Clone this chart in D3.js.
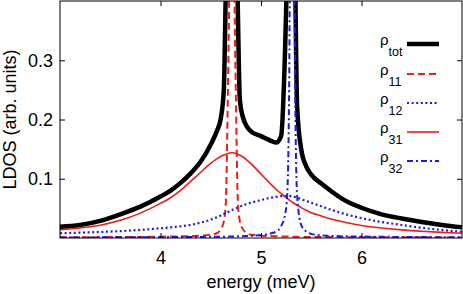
<!DOCTYPE html>
<html>
<head>
<meta charset="utf-8">
<script src="https://cdn.jsdelivr.net/npm/d3@7"></script>
<style>
  body { margin: 0; background: #fff; }
  svg { display: block; font-family: "Liberation Sans", Arial, sans-serif; }
</style>
</head>
<body>
<div id="chart"></div>
<script>
// energy grid (meV), denser around the two sharp resonances
var energy = [3.0, 3.2, 3.4, 3.6, 3.8, 4.0, 4.1, 4.2, 4.3, 4.4, 4.5, 4.56, 4.60, 4.63, 4.65, 4.67,
  4.69, 4.71, 4.73, 4.75, 4.77, 4.79, 4.82, 4.86, 4.9, 5.0, 5.1, 5.15, 5.2, 5.24, 5.26, 5.28,
  5.30, 5.32, 5.34, 5.36, 5.40, 5.45, 5.5, 5.6, 5.7, 5.8, 6.0, 6.2, 6.4, 6.6, 6.8, 7.0];

var rhoTot = [0.019, 0.022, 0.029, 0.040, 0.053, 0.070, 0.080, 0.093, 0.109, 0.129, 0.158, 0.180, 0.202, 0.25, 0.42, 0.6,
  0.8, 0.9, 0.8, 0.6, 0.38, 0.232, 0.204, 0.188, 0.180, 0.172, 0.164, 0.161, 0.172, 0.32, 0.45, 0.6,
  0.9, 0.85, 0.45, 0.22, 0.150, 0.121, 0.107, 0.092, 0.079, 0.067, 0.051, 0.040, 0.033, 0.027, 0.022, 0.018];

var rho11 = [0.0012, 0.0013, 0.0014, 0.0016, 0.0018, 0.0022, 0.0025, 0.0028, 0.0033, 0.004, 0.0055, 0.008, 0.015, 0.028, 0.06, 0.24,
  0.5, 0.9, 0.5, 0.24, 0.06, 0.028, 0.015, 0.008, 0.0055, 0.004, 0.0032, 0.003, 0.0027, 0.0025, 0.0024, 0.0023,
  0.0022, 0.0021, 0.002, 0.002, 0.0019, 0.0018, 0.0017, 0.0016, 0.0015, 0.0014, 0.0013, 0.0012, 0.0011, 0.0011, 0.001, 0.001];

var rho12 = [0.008, 0.009, 0.0102, 0.0117, 0.0137, 0.0164, 0.018, 0.0197, 0.0222, 0.026, 0.031, 0.035, 0.038, 0.0405, 0.042, 0.0437,
  0.0453, 0.047, 0.0485, 0.050, 0.0515, 0.053, 0.055, 0.0573, 0.0595, 0.064, 0.068, 0.0695, 0.0706, 0.0712, 0.0713, 0.0712,
  0.0707, 0.0699, 0.069, 0.068, 0.0655, 0.0625, 0.0595, 0.0535, 0.0475, 0.0422, 0.0335, 0.027, 0.022, 0.0172, 0.0135, 0.0105];

var rho31 = [0.0138, 0.0170, 0.0215, 0.0298, 0.0420, 0.0584, 0.068, 0.0805, 0.0955, 0.111, 0.126, 0.1335, 0.1375, 0.140, 0.1415, 0.1428,
  0.1436, 0.144, 0.1436, 0.1427, 0.1414, 0.1398, 0.1367, 0.1315, 0.1254, 0.108, 0.0905, 0.0823, 0.0748, 0.0693, 0.0667, 0.0642,
  0.0618, 0.0595, 0.0573, 0.0552, 0.0512, 0.0468, 0.0428, 0.0372, 0.032, 0.0277, 0.021, 0.017, 0.0137, 0.0113, 0.0095, 0.008];

var rho32 = [0.001, 0.001, 0.0011, 0.0012, 0.0013, 0.0014, 0.0015, 0.0016, 0.0017, 0.0018, 0.002, 0.0021, 0.0022, 0.0023, 0.0023, 0.0024,
  0.0025, 0.0025, 0.0026, 0.0027, 0.0028, 0.0029, 0.003, 0.0033, 0.0036, 0.005, 0.008, 0.011, 0.02, 0.04, 0.07, 0.25,
  0.8, 0.8, 0.25, 0.07, 0.022, 0.011, 0.007, 0.0045, 0.0035, 0.003, 0.0024, 0.002, 0.0018, 0.0016, 0.0014, 0.0013];

var xTicks = [4, 5, 6];
var yTicks = [0.1, 0.2, 0.3];
var seriesNames = ["tot", "11", "12", "31", "32"];

var width = 463, height = 294;
var margin = { top: 1, right: 1, bottom: 56, left: 60 };

var svg = d3.select("#chart").append("svg")
  .attr("width", width)
  .attr("height", height);

var x = d3.scaleLinear().domain([3, 7]).range([margin.left, width - margin.right]);
var y = d3.scaleLinear().domain([0, 0.4]).range([height - margin.bottom, margin.top]);

var red = "#ec1c1c", blue = "#1c1ce6";
var styles = {
  "tot": { color: "#000", width: 4.5, dash: null },
  "11": { color: red, width: 2, dash: "7,4" },
  "12": { color: blue, width: 2.2, dash: "2,2.6" },
  "31": { color: red, width: 1.6, dash: null },
  "32": { color: blue, width: 2, dash: "6,3,2,3" }
};
var values = { "tot": rhoTot, "11": rho11, "12": rho12, "31": rho31, "32": rho32 };

svg.append("clipPath").attr("id", "clip")
  .append("rect")
  .attr("x", x(3)).attr("y", y(0.4))
  .attr("width", x(7) - x(3)).attr("height", y(0) - y(0.4));

var line = d3.line()
  .x(d => x(d[0]))
  .y(d => y(d[1]))
  .curve(d3.curveMonotoneX);

var plot = svg.append("g").attr("clip-path", "url(#clip)");

seriesNames.forEach(function(name) {
  var st = styles[name];
  plot.append("path")
    .datum(energy.map((e, i) => [e, values[name][i]]))
    .attr("fill", "none")
    .attr("stroke", st.color)
    .attr("stroke-width", st.width)
    .attr("stroke-dasharray", st.dash)
    .attr("stroke-linejoin", "round")
    .attr("d", line);
});

// axes, ticks pointing inward on all four sides
var fontSize = 18;
svg.append("g")
  .attr("transform", `translate(0, ${y(0)})`)
  .call(d3.axisBottom(x).tickValues(xTicks).tickSizeInner(-5).tickSizeOuter(0).tickPadding(13.5).tickFormat(d3.format("d")));
svg.append("g")
  .attr("transform", `translate(${x(3)}, 0)`)
  .call(d3.axisLeft(y).tickValues(yTicks).tickSizeInner(-5).tickSizeOuter(0).tickPadding(7).tickFormat(d3.format(".1f")));
svg.append("g")
  .attr("transform", `translate(0, ${y(0.4)})`)
  .call(d3.axisTop(x).tickValues(xTicks).tickSizeInner(-5).tickSizeOuter(0).tickFormat(""));
svg.append("g")
  .attr("transform", `translate(${x(7)}, 0)`)
  .call(d3.axisRight(y).tickValues(yTicks).tickSizeInner(-5).tickSizeOuter(0).tickFormat(""));

svg.selectAll(".domain").remove();
svg.selectAll(".tick line").attr("stroke", "#000");
svg.selectAll(".tick text")
  .attr("font-family", "Liberation Sans, Arial, sans-serif")
  .attr("font-size", fontSize)
  .attr("fill", "#000");

svg.append("rect")
  .attr("x", x(3)).attr("y", y(0.4))
  .attr("width", x(7) - x(3)).attr("height", y(0) - y(0.4))
  .attr("fill", "none")
  .attr("stroke", "#000")
  .attr("stroke-width", 1);

svg.append("text")
  .attr("x", (x(3) + x(7)) / 2)
  .attr("y", 288)
  .attr("text-anchor", "middle")
  .attr("font-size", fontSize)
  .text("energy (meV)");

svg.append("text")
  .attr("transform", `translate(16, ${(y(0) + y(0.4)) / 2}) rotate(-90)`)
  .attr("text-anchor", "middle")
  .attr("font-size", fontSize)
  .text("LDOS (arb. units)");

// legend
var legendY = [44, 74, 103, 132, 161];
var legend = svg.append("g");
seriesNames.forEach(function(name, i) {
  var st = styles[name];
  var ly = legendY[i];
  var t = legend.append("text")
    .attr("x", 380)
    .attr("y", ly + 1)
    .attr("font-size", 15);
  t.append("tspan").text("ρ");
  t.append("tspan").attr("font-size", 12.5).attr("dy", 11).text(name);
  legend.append("line")
    .attr("x1", 407).attr("x2", 439)
    .attr("y1", ly).attr("y2", ly)
    .attr("stroke", st.color)
    .attr("stroke-width", st.width)
    .attr("stroke-dasharray", st.dash);
});
</script>
</body>
</html>
